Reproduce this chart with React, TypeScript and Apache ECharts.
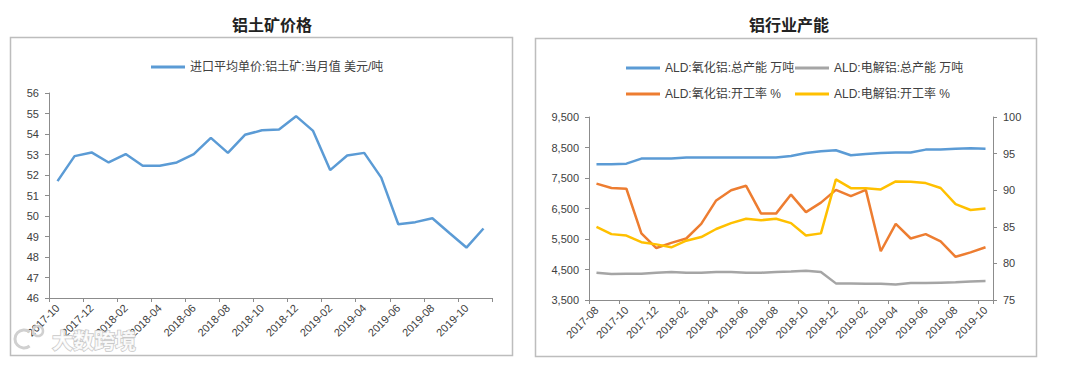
import React, { useEffect, useRef } from "react";
import * as echarts from "echarts";

// Left chart: 铝土矿价格
const leftCategories = [
  "2017-10", "2017-11", "2017-12", "2018-01", "2018-02", "2018-03", "2018-04", "2018-05",
  "2018-06", "2018-07", "2018-08", "2018-09", "2018-10", "2018-11", "2018-12", "2019-01",
  "2019-02", "2019-03", "2019-04", "2019-05", "2019-06", "2019-07", "2019-08", "2019-09",
  "2019-10", "2019-11",
];
const bauxitePrice = [
  51.70, 52.92, 53.10, 52.61, 53.02, 52.45, 52.45, 52.61, 53.02, 53.81, 53.08, 53.96, 54.18,
  54.22, 54.87, 54.15, 52.24, 52.95, 53.08, 51.87, 49.60, 49.70, 49.89, 49.17, 48.46, 49.39,
];

// Right chart: 铝行业产能
const rightCategories = [
  "2017-08", "2017-09", "2017-10", "2017-11", "2017-12", "2018-01", "2018-02", "2018-03",
  "2018-04", "2018-05", "2018-06", "2018-07", "2018-08", "2018-09", "2018-10", "2018-11",
  "2018-12", "2019-01", "2019-02", "2019-03", "2019-04", "2019-05", "2019-06", "2019-07",
  "2019-08", "2019-09", "2019-10",
];
const aluminaCapacity = [
  7950, 7950, 7970, 8136, 8140, 8140, 8170, 8170, 8170, 8170, 8170, 8170, 8170, 8220, 8320,
  8376, 8409, 8245, 8289, 8322, 8333, 8333, 8431, 8431, 8463, 8474, 8463,
];
const electrolyticCapacity = [
  4394, 4350, 4360, 4360, 4394, 4416, 4394, 4394, 4416, 4416, 4394, 4394, 4416, 4437, 4460,
  4416, 4045, 4045, 4034, 4034, 4012, 4056, 4056, 4067, 4078, 4110, 4121,
];
const aluminaRate = [
  90.9, 90.3, 90.2, 84.1, 82.1, 82.8, 83.4, 85.4, 88.6, 90.0, 90.6, 86.8, 86.8, 89.4, 87.0,
  88.3, 90.05, 89.2, 90.05, 81.66, 85.4, 83.4, 84.0, 83.0, 80.9, 81.5, 82.2,
];
const electrolyticRate = [
  85.0, 84.0, 83.8, 82.9, 82.6, 82.2, 83.1, 83.6, 84.7, 85.5, 86.1, 85.9, 86.1, 85.5, 83.8,
  84.1, 91.47, 90.28, 90.28, 90.1, 91.2, 91.15, 90.97, 90.3, 88.1, 87.3, 87.5,
];

const FONT = "'Liberation Sans', 'Noto Sans CJK SC', sans-serif";
const AXIS_COLOR = "#8c8c8c";
const LABEL_COLOR = "#404040";

const fmtThousands = (v: number) => String(Math.round(v)).replace(/\B(?=(\d{3})+(?!\d))/g, ",");

export default function App() {
  const ref = useRef<HTMLDivElement>(null);
  useEffect(() => {
    document.body.style.margin = "0";
    if (!ref.current) return;
    const chart = echarts.init(ref.current, undefined, { renderer: "svg" });

    const catAxis = (idx: number, data: string[]) => ({
      type: "category",
      gridIndex: idx,
      data,
      boundaryGap: true,
      axisLine: { show: true, lineStyle: { color: AXIS_COLOR, width: 1 } },
      axisTick: { show: true, interval: 1, length: 4, inside: false, lineStyle: { color: AXIS_COLOR } },
      axisLabel: { interval: 1, rotate: 45, fontSize: 11, color: LABEL_COLOR, fontFamily: FONT, margin: 8 },
      splitLine: { show: false },
    });

    const valAxis = (idx: number, min: number, max: number, interval: number, position: string, fmt?: (v: number) => string) => ({
      type: "value",
      gridIndex: idx,
      min,
      max,
      interval,
      position,
      axisLine: { show: true, lineStyle: { color: AXIS_COLOR, width: 1 } },
      axisTick: { show: true, length: 4, inside: false, lineStyle: { color: AXIS_COLOR } },
      axisLabel: { fontSize: 11, color: LABEL_COLOR, fontFamily: FONT, margin: 10, formatter: fmt },
      splitLine: { show: false },
    });

    const legendBase = {
      icon: "rect",
      itemWidth: 34,
      itemHeight: 3,
      textStyle: { fontSize: 12, color: LABEL_COLOR, fontFamily: FONT },
      selectedMode: false,
    };

    chart.setOption({
      animation: false,
      backgroundColor: "#ffffff",
      title: [
        {
          text: "铝土矿价格",
          left: 267,
          top: 12,
          textAlign: "center",
          textStyle: { fontSize: 16, fontWeight: "bold", color: "#222", fontFamily: FONT },
        },
        {
          text: "铝行业产能",
          left: 784,
          top: 12,
          textAlign: "center",
          textStyle: { fontSize: 16, fontWeight: "bold", color: "#222", fontFamily: FONT },
        },
      ],
      legend: [
        { ...legendBase, left: 146, top: 56, data: ["进口平均单价:铝土矿:当月值 美元/吨"] },
        { ...legendBase, left: 621, top: 57, data: ["ALD:氧化铝:总产能 万吨"] },
        { ...legendBase, left: 790, top: 57, data: ["ALD:电解铝:总产能 万吨"] },
        { ...legendBase, left: 621, top: 83, data: ["ALD:氧化铝:开工率 %"] },
        { ...legendBase, left: 790, top: 83, data: ["ALD:电解铝:开工率 %"] },
      ],
      grid: [
        { left: 49, right: 588, top: 93, bottom: 67 },
        { left: 589, right: 87, top: 117, bottom: 65 },
      ],
      xAxis: [catAxis(0, leftCategories), catAxis(1, rightCategories)],
      yAxis: [
        valAxis(0, 46, 56, 1, "left"),
        valAxis(1, 3500, 9500, 1000, "left", fmtThousands),
        valAxis(1, 75, 100, 5, "right"),
      ],
      series: [
        {
          name: "进口平均单价:铝土矿:当月值 美元/吨",
          type: "line",
          xAxisIndex: 0,
          yAxisIndex: 0,
          data: bauxitePrice,
          showSymbol: false,
          symbol: "none",
          lineStyle: { color: "#5B9BD5", width: 2.5 },
          itemStyle: { color: "#5B9BD5" },
        },
        {
          name: "ALD:氧化铝:总产能 万吨",
          type: "line",
          xAxisIndex: 1,
          yAxisIndex: 1,
          data: aluminaCapacity,
          symbol: "none",
          lineStyle: { color: "#5B9BD5", width: 2.5 },
          itemStyle: { color: "#5B9BD5" },
        },
        {
          name: "ALD:电解铝:总产能 万吨",
          type: "line",
          xAxisIndex: 1,
          yAxisIndex: 1,
          data: electrolyticCapacity,
          symbol: "none",
          lineStyle: { color: "#A5A5A5", width: 2.5 },
          itemStyle: { color: "#A5A5A5" },
        },
        {
          name: "ALD:氧化铝:开工率 %",
          type: "line",
          xAxisIndex: 1,
          yAxisIndex: 2,
          data: aluminaRate,
          symbol: "none",
          lineStyle: { color: "#ED7D31", width: 2.5 },
          itemStyle: { color: "#ED7D31" },
        },
        {
          name: "ALD:电解铝:开工率 %",
          type: "line",
          xAxisIndex: 1,
          yAxisIndex: 2,
          data: electrolyticRate,
          symbol: "none",
          lineStyle: { color: "#FFC000", width: 2.5 },
          itemStyle: { color: "#FFC000" },
        },
      ],
      graphic: [
        {
          type: "rect",
          silent: true,
          z: -10,
          shape: { x: 10.5, y: 37.5, width: 502, height: 318 },
          style: { fill: "none", stroke: "#bdbdbd", lineWidth: 1.5 },
        },
        {
          type: "rect",
          silent: true,
          z: -10,
          shape: { x: 535.5, y: 38.5, width: 501, height: 318 },
          style: { fill: "none", stroke: "#bdbdbd", lineWidth: 1.5 },
        },
        {
          type: "arc",
          silent: true,
          z: 100,
          shape: { cx: 24, cy: 339, r: 9, startAngle: 0.9, endAngle: 5.4 },
          style: { fill: "none", stroke: "#d0d0d0", lineWidth: 3 },
        },
        {
          type: "circle",
          silent: true,
          z: 100,
          shape: { cx: 38, cy: 331, r: 5 },
          style: { fill: "none", stroke: "#d0d0d0", lineWidth: 2.5 },
        },
        {
          type: "text",
          silent: true,
          z: 100,
          x: 52,
          y: 339,
          style: {
            text: "大数跨境",
            font: "bold 21px 'Noto Sans CJK SC', sans-serif",
            fill: "rgba(255,255,255,0.85)",
            stroke: "#c8c8c8",
            lineWidth: 1.5,
            verticalAlign: "middle",
          },
        },
      ],
    });
    return () => chart.dispose();
  }, []);
  return <div ref={ref} style={{ width: 1080, height: 365 }} />;
}
